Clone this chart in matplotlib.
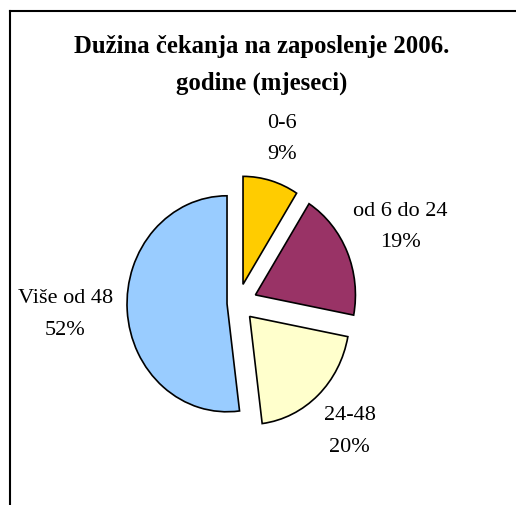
import matplotlib
matplotlib.use('Agg')
import matplotlib.pyplot as plt
from matplotlib.lines import Line2D
import numpy as np

plt.rcParams['font.family'] = ['Liberation Serif', 'DejaVu Serif']

# data
categories = ['0-6', 'od 6 do 24', '24-48', 'Više od 48']
shares = [9, 19, 20, 52]
colors = ['#FFCC00', '#993366', '#FFFFCC', '#99CCFF']
explode = [0.18, 0.19, 0.17, 0.11]
label_dist = [1.58, 1.77, 1.63, 1.73]

fig = plt.figure(figsize=(5.16, 5.05), dpi=100)
ax = fig.add_axes([0, 0, 1, 1])

wedges, _ = ax.pie(shares, colors=colors, explode=explode, startangle=90,
                   counterclock=False,
                   wedgeprops=dict(edgecolor='black', linewidth=1.2))
ax.set_aspect('auto')
ax.set_xlim(-2.38, 2.78)
ax.set_ylim(-1.87, 2.806)
ax.axis('off')

for w, name, val, d in zip(wedges, categories, shares, label_dist):
    ang = np.deg2rad((w.theta1 + w.theta2) / 2)
    ax.text(d * np.cos(ang), d * np.sin(ang), '%s\n%d%%' % (name, val),
            ha='center', va='center', fontsize=16, linespacing=1.9)

fig.text(0.508, 0.872, 'Dužina čekanja na zaposlenje 2006.\ngodine (mjeseci)',
         ha='center', va='center', fontsize=17.8, fontweight='bold', linespacing=1.75)

# chart frame (only top and left edges visible)
fig.add_artist(Line2D([0.0194, 1.0], [0.979, 0.979], color='black', lw=1.5,
                      transform=fig.transFigure))
fig.add_artist(Line2D([0.0194, 0.0194], [0.0, 0.979], color='black', lw=1.5,
                      transform=fig.transFigure))

fig.savefig('out.png', dpi=100)
